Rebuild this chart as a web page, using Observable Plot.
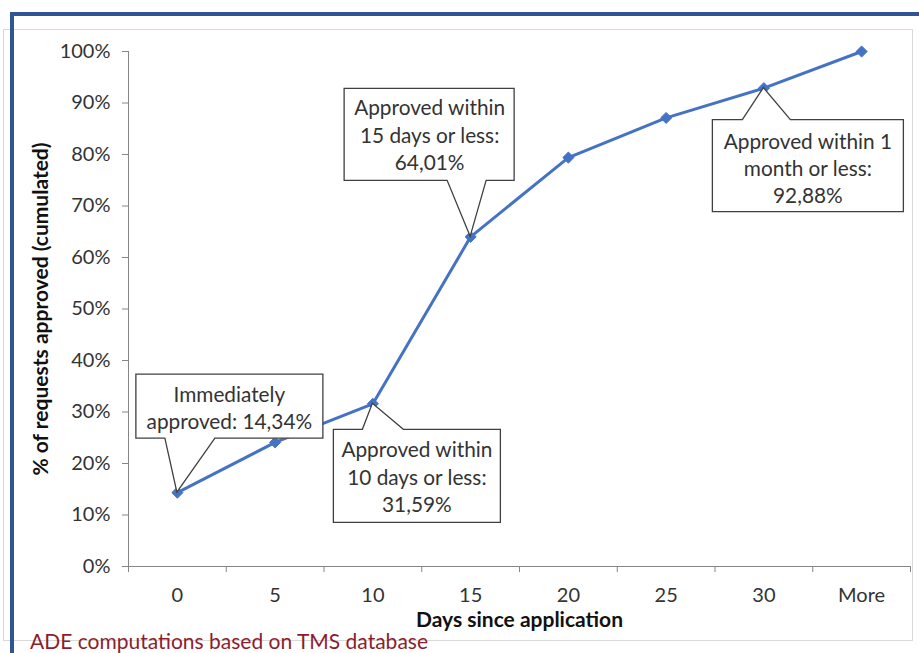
<!DOCTYPE html>
<html>
<head>
<meta charset="utf-8">
<script src="https://cdn.jsdelivr.net/npm/d3@7"></script>
<script src="https://cdn.jsdelivr.net/npm/@observablehq/plot@0.6"></script>
<style>
  body { margin: 0; background: #fff; }
  #wrap { position: relative; width: 919px; height: 653px; overflow: hidden; font-family: Lato, sans-serif; background: #fff; }
  #chart { position: absolute; left: 0; top: 0; }
  .grayframe { position: absolute; left: 3px; top: 29px; width: 910px; height: 612px; border: 1px solid #d9d9d9; box-sizing: border-box; pointer-events: none; }
  .blueTop { position: absolute; left: 10px; top: 12px; right: 0; height: 4px; background: #2F5597; }
  .blueLeft { position: absolute; left: 10px; top: 12px; width: 4px; bottom: 0; background: #2F5597; }
  #caption { position: absolute; left: 30px; top: 628px; color: #8B1E2D; font-size: 21px; font-family: Lato, sans-serif; white-space: nowrap; }
</style>
</head>
<body>
<div id="wrap">
  <div id="chart"></div>
  <div class="grayframe"></div>
  <div class="blueTop"></div>
  <div class="blueLeft"></div>
  <div id="caption">ADE computations based on TMS database</div>
</div>
<script>
// ---- data ----
const categories = ["0", "5", "10", "15", "20", "25", "30", "More"];
const approved = [0.1434, 0.241, 0.3159, 0.6401, 0.794, 0.871, 0.9288, 1.0];
const yTicks = [0, 0.1, 0.2, 0.3, 0.4, 0.5, 0.6, 0.7, 0.8, 0.9, 1.0];
const xTitle = "Days since application";
const yTitle = "% of requests approved (cumulated)";
const annotationIndex = [0, 2, 3, 6];
const annotationText = [
  "Immediately\napproved: 14,34%",
  "Approved within\n10 days or less:\n31,59%",
  "Approved within\n15 days or less:\n64,01%",
  "Approved within 1\nmonth or less:\n92,88%"
];

// ---- layout of callouts (pixel offsets from their data point) ----
const calloutLayout = [
  {box: [-41, -118, 146, -54], base: [-12, 38], side: "bottom", tx: 52, ty: -86},
  {box: [-39, 26, 128, 119], base: [-10, 31], side: "top", tx: 44, ty: 72},
  {box: [-126, -148, 44, -56], base: [-23, 16], side: "bottom", tx: -41, ty: -103},
  {box: [-51, 32, 140, 124], base: [-21, 27], side: "top", tx: 44, ty: 79}
];

const rows = categories.map((c, i) => ({cat: c, pos: i + 0.5, value: approved[i]}));
const ML = 128, MR = 9, MT = 51, MB = 87, W = 919, H = 653;

function calloutBoxes(index, scales) {
  const g = d3.create("svg:g");
  const sx = typeof scales.x === "function" ? scales.x : v => ML + v / categories.length * (W - ML - MR);
  const sy = typeof scales.y === "function" ? scales.y : v => H - MB - v * (H - MT - MB);
  annotationIndex.forEach((idx, k) => {
    const L = calloutLayout[k];
    const px = sx(rows[idx].pos), py = sy(rows[idx].value);
    const [l, t, r, b] = L.box;
    const [b1, b2] = L.base;
    const pts = L.side === "bottom"
      ? [[l, t], [r, t], [r, b], [b2, b], [0, 0], [b1, b], [l, b]]
      : [[l, t], [b1, t], [0, 0], [b2, t], [r, t], [r, b], [l, b]];
    g.append("path")
      .attr("d", "M" + pts.map(p => `${px + p[0]},${py + p[1]}`).join("L") + "Z")
      .attr("fill", "white")
      .attr("stroke", "#404040")
      .attr("stroke-width", 1.3)
      .attr("stroke-linejoin", "miter");
  });
  return g.node();
}

const labelMarks = annotationIndex.map((idx, k) =>
  Plot.text([rows[idx]], {
    x: "pos", y: "value",
    text: () => annotationText[k],
    dx: calloutLayout[k].tx, dy: calloutLayout[k].ty,
    lineAnchor: "middle", textAnchor: "middle",
    lineHeight: 1.32, fontSize: 20.8, fill: "#333"
  })
);

const chart = Plot.plot({
  width: W, height: H,
  marginLeft: ML, marginRight: MR, marginTop: MT, marginBottom: MB,
  style: {fontFamily: "Lato, sans-serif", background: "transparent", overflow: "visible"},
  x: {type: "linear", domain: [0, categories.length]},
  y: {domain: [0, 1]},
  marks: [
    Plot.ruleX([0], {stroke: "#868686", strokeWidth: 1}),
    Plot.ruleY([0], {stroke: "#868686", strokeWidth: 1}),
    Plot.axisY({ticks: yTicks, tickSize: 6, tickPadding: 12, tickFormat: d3.format(".0%"),
      fontSize: 20, stroke: "#868686", fill: "#333", label: null}),
    Plot.axisX({ticks: d3.range(0, categories.length + 1), tickSize: 6, tickFormat: () => "",
      stroke: "#868686", label: null}),
    Plot.axisX({ticks: rows.map(d => d.pos), tickSize: 0, tickPadding: 21,
      tickFormat: d => categories[Math.round(d - 0.5)], fontSize: 20, fill: "#333", label: null}),
    Plot.text([xTitle], {frameAnchor: "bottom", dy: 54, fontWeight: "bold", fontSize: 21,
      lineAnchor: "middle", textAnchor: "middle", fill: "#111"}),
    Plot.text([yTitle], {frameAnchor: "left", dx: -87, rotate: -90, fontWeight: "bold", fontSize: 21,
      lineAnchor: "middle", textAnchor: "middle", fill: "#111"}),
    Plot.line(rows, {x: "pos", y: "value", stroke: "#4472C4", strokeWidth: 3}),
    Plot.dot(rows, {x: "pos", y: "value", symbol: "diamond2", r: 5, fill: "#4472C4", stroke: "#4472C4", strokeWidth: 1}),
    calloutBoxes,
    ...labelMarks
  ]
});
document.getElementById("chart").appendChild(chart);
</script>
</body>
</html>
